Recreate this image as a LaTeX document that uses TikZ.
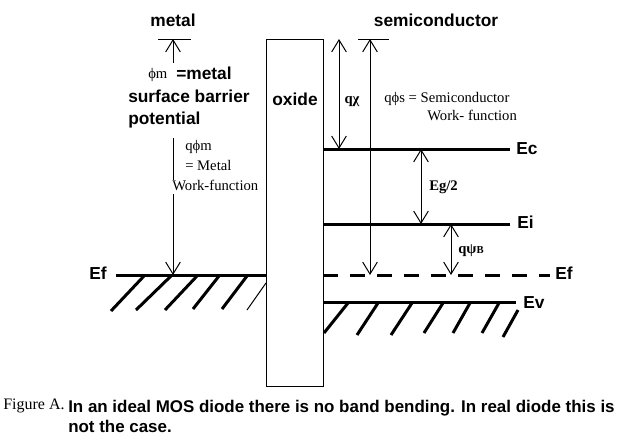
\documentclass[tikz,border=0pt]{standalone}
\usepackage{fontspec}
\setmainfont{Liberation Serif}
\setsansfont{Liberation Sans}
\usetikzlibrary{arrows.meta,positioning,calc}

\begin{document}
\begin{tikzpicture}[
  x=0.75pt, y=-0.75pt,
  >={Straight Barb[length=9pt,width=11pt]},
  lbl/.style={font=\sffamily\bfseries\fontsize{13}{16}\selectfont,inner sep=0pt,text height=9.5pt,text depth=2.5pt},
  captxt/.style={lbl,font=\sffamily\bfseries\fontsize{12.7}{15}\selectfont},
  txt/.style={font=\fontsize{11}{13}\selectfont,inner sep=0pt,text height=8pt,text depth=2.5pt},
  btxt/.style={txt,font=\bfseries\fontsize{11}{13}\selectfont},
  fine/.style={line width=0.75pt},
  lvl/.style={line width=2.25pt},
]
\useasboundingbox (0,0) rectangle (625,446);

% oxide layer
\coordinate (oxTL) at (266,39);
\coordinate (oxBR) at (323,386);
\draw[fine] (oxTL) rectangle (oxBR);
\node[lbl] (oxide) at (295,101) {oxide};

% metal side
\coordinate (mBarL) at (158,39);
\coordinate (mBarR) at (191,39);
\coordinate (mTop) at (173,39);
\coordinate (mLow) at (173,63);
\coordinate (mWf) at (173,138);
\coordinate (mEf) at (173,275);
\coordinate (mEfL) at (116,275);
\coordinate (mEfR) at (267,275);
\draw[fine] (mBarL) -- (mBarR);
\draw[fine,->] (mLow) -- (mTop);
\draw[fine,->] (mWf) -- (mEf);
\draw[lvl] (mEfL) -- (mEfR);
\draw[lvl] (111,311) -- (144,276) (136,310) -- (171,276) (165,310) -- (197,276)
  (193,309) -- (219,276) (222,309) -- (247,276);
\draw[fine] (247,310) -- (266,283);

\node[lbl] (metal) at (173,22) {metal};
\node[txt,anchor=west] (phim) at (148,75) {ϕm};
\node[lbl,anchor=west] (eqmetal) at (176,75) {=metal};
\node[lbl,anchor=west] (surf) at (128,98) {surface barrier};
\node[lbl,anchor=west] (pot) at (128,120) {potential};
\node[txt,anchor=west] (qphim) at (185,147) {qϕm};
\node[txt,anchor=west] (eqM) at (185,167) {= Metal};
\node[txt,anchor=west,fill=white] (mwf) at (172,187) {Work-function};
\node[lbl,anchor=west] (efm) at (89,275) {Ef};

% semiconductor side
\coordinate (sBarL) at (358,39);
\coordinate (sBarR) at (389,39);
\coordinate (chiT) at (339,39);
\coordinate (chiB) at (339,149);
\coordinate (phisT) at (370,39);
\coordinate (phisB) at (370,275);
\coordinate (egT) at (421,149);
\coordinate (egB) at (421,224);
\coordinate (psiT) at (451,224);
\coordinate (psiB) at (451,275);
\coordinate (ecL) at (323,149);
\coordinate (ecR) at (510,149);
\coordinate (eiL) at (323,224);
\coordinate (eiR) at (510,224);
\coordinate (efL) at (323,275);
\coordinate (efR) at (550,275);
\coordinate (evL) at (323,302);
\coordinate (evR) at (516,302);

\draw[fine] (sBarL) -- (sBarR);
\draw[lvl] (ecL) -- (ecR);
\draw[lvl] (eiL) -- (eiR);
\draw[lvl,dash pattern=on 11.25pt off 9pt] (efL) -- (efR);
\draw[lvl] (evL) -- (evR);
\draw[lvl] (324,333) -- (348,303) (357,335) -- (378,303) (391,335) -- (412,303)
  (424,333) -- (443,303) (453,333) -- (470,303) (482,333) -- (499,303)
  (503,337) -- (518,310);
\draw[fine,<->] (chiT) -- (chiB);
\draw[fine,<->] (phisT) -- (phisB);
\draw[fine,<->] (egT) -- (egB);
\draw[fine,<->] (psiT) -- (psiB);

\node[lbl] (semi) at (436,22) {semiconductor};
\node[btxt] (qchi) at (352,100) {qχ};
\node[txt,anchor=west] (qphis) at (384,99) {qϕs = Semiconductor};
\node[txt,anchor=west] (swf) at (427,117) {Work- function};
\node[btxt,anchor=west] (eg) at (429,187) {Eg/2};
\node[btxt,anchor=west] (qpsi) at (458,250) {qψ{\fontsize{8}{9}\selectfont B}};
\node[lbl,anchor=west] (ec) at (516,150) {Ec};
\node[lbl,anchor=west] (ei) at (517,224) {Ei};
\node[lbl,anchor=west] (efs) at (555,275) {Ef};
\node[lbl,anchor=west] (ev) at (523,304) {Ev};

% caption
\node[txt,anchor=west,font=\fontsize{12}{14}\selectfont] (figA) at (3,406) {Figure A.};
\node[captxt,anchor=west] (cap1) at (68,408) {In an ideal MOS diode there is no band bending. In real diode this is};
\node[captxt,anchor=west] (cap2) at (68,428) {not the case.};
\end{tikzpicture}
\end{document}
